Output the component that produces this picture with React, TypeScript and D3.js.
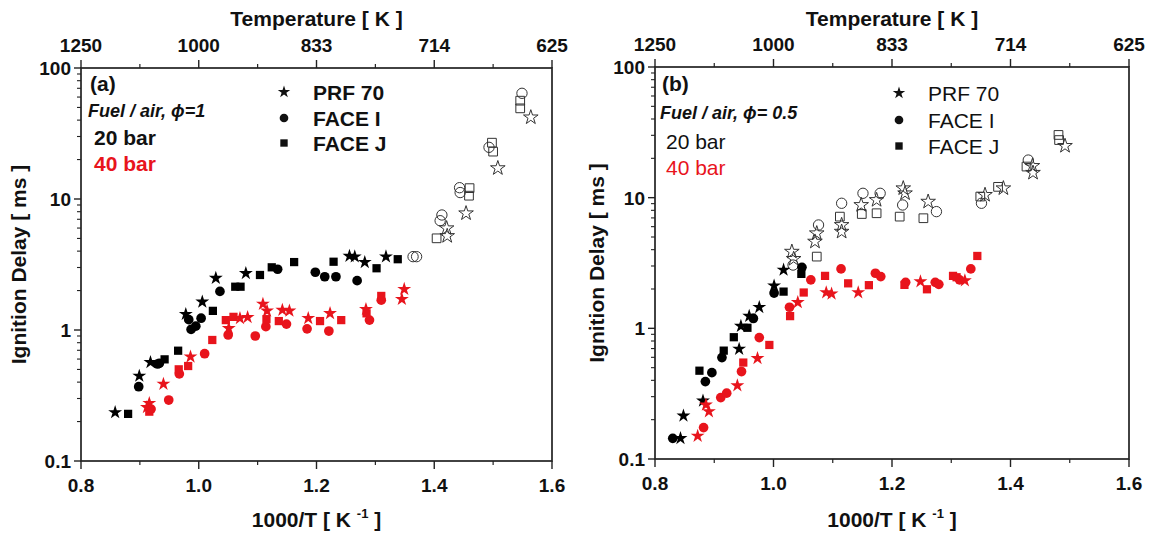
import React from "react";
import * as d3 from "d3";

type Pt = [number, number];

// ---------- axis data ----------
const xMajorTicks = [0.8, 1.0, 1.2, 1.4, 1.6];
const xMinorTicks = [0.9, 1.1, 1.3, 1.5];
const xTickLabels = ["0.8", "1.0", "1.2", "1.4", "1.6"];
const topTickLabels = ["1250", "1000", "833", "714", "625"];
const yMajorTicks = [0.1, 1, 10, 100];
const yTickLabels = ["0.1", "1", "10", "100"];

// ---------- panel (a): phi = 1 ----------
const a_prf_20: Pt[] = [
  [0.858, 0.235], [0.899, 0.446], [0.918, 0.567], [0.978, 1.32], [1.006, 1.64],
  [1.029, 2.49], [1.08, 2.71], [1.256, 3.67], [1.265, 3.63], [1.282, 3.29], [1.318, 3.63],
];
const a_faceI_20: Pt[] = [
  [0.898, 0.369], [0.93, 0.55], [0.933, 0.556], [0.983, 1.2], [0.987, 1.01],
  [0.995, 1.07], [1.004, 1.23], [1.036, 1.97], [1.134, 2.91], [1.198, 2.76],
  [1.214, 2.55], [1.233, 2.55], [1.269, 2.38],
];
const a_faceJ_20: Pt[] = [
  [0.88, 0.229], [0.942, 0.597], [0.965, 0.695], [1.024, 1.4], [1.062, 2.14],
  [1.071, 2.14], [1.104, 2.63], [1.124, 3.01], [1.162, 3.3], [1.229, 3.32],
  [1.302, 2.96], [1.338, 3.47],
];
const a_prf_40: Pt[] = [
  [0.916, 0.276], [0.912, 0.257], [0.94, 0.387], [0.986, 0.625], [1.051, 1.03],
  [1.07, 1.23], [1.083, 1.25], [1.109, 1.58], [1.116, 1.4], [1.142, 1.42],
  [1.154, 1.4], [1.186, 1.23], [1.223, 1.34], [1.284, 1.44], [1.349, 2.05], [1.345, 1.72],
];
const a_faceI_40: Pt[] = [
  [0.919, 0.249], [0.949, 0.292], [0.967, 0.462], [1.01, 0.659], [1.05, 0.916],
  [1.096, 0.9], [1.114, 1.06], [1.149, 1.11], [1.184, 1.02], [1.221, 0.982],
  [1.29, 1.19], [1.31, 1.69],
];
const a_faceJ_40: Pt[] = [
  [0.916, 0.238], [0.966, 0.501], [0.982, 0.531], [1.023, 0.839], [1.046, 1.19],
  [1.059, 1.26], [1.115, 1.21], [1.136, 1.17], [1.206, 1.17], [1.242, 1.19],
  [1.285, 1.34], [1.31, 1.82],
];
const a_prf_open: Pt[] = [
  [1.421, 5.98], [1.422, 5.22], [1.454, 7.78], [1.508, 17.2], [1.564, 42.0],
];
const a_faceI_open: Pt[] = [
  [1.364, 3.63], [1.37, 3.63], [1.41, 6.83], [1.413, 7.55], [1.443, 12.2],
  [1.444, 11.2], [1.493, 24.8], [1.549, 64.1],
];
const a_faceJ_open: Pt[] = [
  [1.404, 5.01], [1.46, 12.1], [1.459, 10.6], [1.498, 26.9], [1.5, 23.0],
  [1.546, 56.3], [1.546, 49.2],
];

// ---------- panel (b): phi = 0.5 ----------
const b_prf_20: Pt[] = [
  [0.843, 0.144], [0.848, 0.214], [0.881, 0.279], [0.942, 0.695], [0.945, 1.04],
  [0.959, 1.24], [0.976, 1.45], [1.001, 2.12], [1.017, 2.8],
];
const b_faceI_20: Pt[] = [
  [0.83, 0.144], [0.885, 0.391], [0.896, 0.458], [0.913, 0.597], [0.966, 1.19],
  [1.001, 1.86], [1.048, 2.93],
];
const b_faceJ_20: Pt[] = [
  [0.875, 0.474], [0.916, 0.675], [0.933, 0.855], [0.956, 1.01], [1.017, 1.91], [1.047, 2.61],
];
const b_prf_40: Pt[] = [
  [0.872, 0.15], [0.886, 0.26], [0.891, 0.231], [0.939, 0.365], [0.973, 0.59],
  [1.041, 1.58], [1.089, 1.88], [1.098, 1.84], [1.143, 1.88], [1.248, 2.28], [1.323, 2.32],
];
const b_faceI_40: Pt[] = [
  [0.882, 0.174], [0.911, 0.295], [0.921, 0.319], [0.946, 0.467], [0.976, 0.849],
  [1.027, 1.45], [1.063, 2.35], [1.114, 2.85], [1.172, 2.64], [1.181, 2.49],
  [1.223, 2.25], [1.273, 2.25], [1.279, 2.17], [1.314, 2.35], [1.333, 2.85],
];
const b_faceJ_40: Pt[] = [
  [0.949, 0.547], [0.993, 0.746], [1.028, 1.24], [1.051, 1.88], [1.087, 2.52],
  [1.126, 2.21], [1.161, 2.14], [1.221, 2.15], [1.259, 1.99], [1.303, 2.52],
  [1.309, 2.46], [1.344, 3.58],
];
const b_prf_open: Pt[] = [
  [1.031, 3.86], [1.034, 3.4], [1.073, 5.34], [1.07, 4.61], [1.115, 6.18],
  [1.115, 5.49], [1.148, 8.79], [1.174, 9.6], [1.219, 11.8], [1.222, 10.8],
  [1.261, 9.32], [1.357, 10.5], [1.388, 11.8], [1.437, 17.5], [1.438, 15.5], [1.492, 24.9],
];
const b_faceI_open: Pt[] = [
  [1.033, 3.05], [1.076, 6.18], [1.115, 9.06], [1.151, 10.8], [1.18, 10.8],
  [1.218, 8.79], [1.275, 7.82], [1.351, 9.06], [1.43, 19.4],
];
const b_faceJ_open: Pt[] = [
  [1.073, 3.54], [1.112, 7.16], [1.149, 7.5], [1.174, 7.6], [1.213, 7.16],
  [1.253, 6.96], [1.349, 10.2], [1.379, 12.1], [1.427, 17.3], [1.481, 30.2], [1.482, 27.6],
];

const legendNames = ["PRF 70", "FACE I", "FACE J"];

// ---------- styling ----------
const FONT = "'Liberation Sans', Arial, Helvetica, sans-serif";
const RED = "#e8141c";

type Shape = "star" | "circle" | "square";
const symType: Record<Shape, d3.SymbolType> = {
  star: d3.symbolStar,
  circle: d3.symbolCircle,
  square: d3.symbolSquare,
};
const filledSize: Record<Shape, number> = { star: 60, circle: 74, square: 68 };
const openSize: Record<Shape, number> = { star: 66, circle: 84, square: 76 };

interface Series {
  pts: Pt[];
  shape: Shape;
  color: string;
  open?: boolean;
}

interface Geom {
  left: number;
  right: number;
  top: number;
  bottom: number;
}

interface PanelProps {
  g: Geom;
  series: Series[];
  tag: string;
  fuel: string;
  legendX: number;
  legendYs: number[];
  textX: number;
  tagY: number;
  fuelY: number;
  barYs: number[];
  yTitleX: number;
  lightText?: boolean;
}

function Panel(p: PanelProps) {
  const { g } = p;
  const x = d3.scaleLinear().domain([0.8, 1.6]).range([g.left, g.right]);
  const y = d3.scaleLog().domain([0.1, 100]).range([g.bottom, g.top]);
  const yMinor: number[] = [];
  [0.1, 1, 10].forEach((d) => {
    for (let k = 2; k <= 9; k++) yMinor.push(d * k);
  });
  const cx = (g.left + g.right) / 2;
  const cy = (g.top + g.bottom) / 2;
  const lw = p.lightText ? "normal" : "bold";
  const legendShapes: Shape[] = ["star", "circle", "square"];

  return (
    <g fontFamily={FONT}>
      {/* frame */}
      <rect x={g.left} y={g.top} width={g.right - g.left} height={g.bottom - g.top}
        fill="none" stroke="#222" strokeWidth={1.7} />
      {/* bottom/top ticks */}
      {xMajorTicks.map((t, i) => (
        <g key={"bx" + i}>
          <line x1={x(t)} x2={x(t)} y1={g.bottom} y2={g.bottom + 8} stroke="#222" strokeWidth={1.4} />
          <line x1={x(t)} x2={x(t)} y1={g.top} y2={g.top - 8} stroke="#222" strokeWidth={1.4} />
          <text x={x(t)} y={g.bottom + 31} textAnchor="middle" fontSize={19} fontWeight="bold" fill="#111">
            {xTickLabels[i]}
          </text>
          <text x={x(t)} y={g.top - 16} textAnchor="middle" fontSize={19} fontWeight="bold" fill="#111">
            {topTickLabels[i]}
          </text>
        </g>
      ))}
      {xMinorTicks.map((t, i) => (
        <g key={"mx" + i}>
          <line x1={x(t)} x2={x(t)} y1={g.bottom} y2={g.bottom + 4} stroke="#222" strokeWidth={1.2} />
          <line x1={x(t)} x2={x(t)} y1={g.top} y2={g.top - 4} stroke="#222" strokeWidth={1.2} />
        </g>
      ))}
      {/* y ticks */}
      {yMajorTicks.map((t, i) => (
        <g key={"y" + i}>
          <line x1={g.left - 7} x2={g.left} y1={y(t)} y2={y(t)} stroke="#222" strokeWidth={1.4} />
          <text x={g.left - 10} y={y(t) + 7} textAnchor="end" fontSize={19} fontWeight="bold" fill="#111">
            {yTickLabels[i]}
          </text>
        </g>
      ))}
      {yMinor.map((t, i) => (
        <line key={"ym" + i} x1={g.left - 4} x2={g.left} y1={y(t)} y2={y(t)} stroke="#222" strokeWidth={1.1} />
      ))}
      {/* titles */}
      <text x={cx} y={26} textAnchor="middle" fontSize={21} fontWeight="bold" fill="#111">
        Temperature [ K ]
      </text>
      <text x={cx} y={527} textAnchor="middle" fontSize={21} fontWeight="bold" fill="#111">
        1000/T [ K <tspan fontSize={13} dy={-9}>-1</tspan>
        <tspan dy={9}> ]</tspan>
      </text>
      <text transform={`translate(${p.yTitleX},${cy}) rotate(-90)`} textAnchor="middle"
        fontSize={21} fontWeight="bold" fill="#111">
        Ignition Delay [ ms ]
      </text>
      {/* annotations */}
      <text x={p.textX} y={p.tagY} fontSize={21} fontWeight="bold" fill="#111">{p.tag}</text>
      <text x={p.textX - 2} y={p.fuelY} fontSize={18} fontWeight="bold" fontStyle="italic" fill="#111">{p.fuel}</text>
      <text x={p.textX + 4} y={p.barYs[0]} fontSize={21} fontWeight={lw} fill="#111">20 bar</text>
      <text x={p.textX + 4} y={p.barYs[1]} fontSize={21} fontWeight={lw} fill={RED}>40 bar</text>
      {/* legend */}
      {legendNames.map((n, i) => (
        <g key={"lg" + i}>
          <path d={d3.symbol().type(symType[legendShapes[i]]).size(filledSize[legendShapes[i]] * 0.8)()!}
            transform={`translate(${p.legendX},${p.legendYs[i]})`} fill="#111" />
          <text x={p.legendX + 29} y={p.legendYs[i] + 8} fontSize={21} fontWeight={lw} fill="#111">{n}</text>
        </g>
      ))}
      {/* data */}
      {p.series.map((s, si) => {
        const path = d3.symbol().type(symType[s.shape]).size(s.open ? openSize[s.shape] : filledSize[s.shape])()!;
        return (
          <g key={"s" + si}>
            {s.pts.map((pt, k) => (
              <path key={k} d={path} transform={`translate(${x(pt[0])},${y(pt[1])})`}
                fill={s.open ? "none" : s.color}
                stroke={s.open ? "#333" : "none"} strokeWidth={s.open ? 1 : 0} />
            ))}
          </g>
        );
      })}
    </g>
  );
}

const seriesA: Series[] = [
  { pts: a_prf_open, shape: "star", color: "#111", open: true },
  { pts: a_faceI_open, shape: "circle", color: "#111", open: true },
  { pts: a_faceJ_open, shape: "square", color: "#111", open: true },
  { pts: a_faceI_20, shape: "circle", color: "#000" },
  { pts: a_faceJ_20, shape: "square", color: "#000" },
  { pts: a_prf_20, shape: "star", color: "#000" },
  { pts: a_faceI_40, shape: "circle", color: RED },
  { pts: a_faceJ_40, shape: "square", color: RED },
  { pts: a_prf_40, shape: "star", color: RED },
];
const seriesB: Series[] = [
  { pts: b_prf_open, shape: "star", color: "#111", open: true },
  { pts: b_faceI_open, shape: "circle", color: "#111", open: true },
  { pts: b_faceJ_open, shape: "square", color: "#111", open: true },
  { pts: b_faceI_20, shape: "circle", color: "#000" },
  { pts: b_faceJ_20, shape: "square", color: "#000" },
  { pts: b_prf_20, shape: "star", color: "#000" },
  { pts: b_faceI_40, shape: "circle", color: RED },
  { pts: b_faceJ_40, shape: "square", color: RED },
  { pts: b_prf_40, shape: "star", color: RED },
];

export default function App() {
  return (
    <svg width={1161} height={535} style={{ position: "absolute", left: 0, top: 0, background: "#fff" }}>
      <rect width={1161} height={535} fill="#fff" />
      <Panel
        g={{ left: 81, right: 552, top: 68, bottom: 461 }}
        series={seriesA}
        tag="(a)"
        fuel="Fuel / air, ϕ=1"
        legendX={284}
        legendYs={[92, 118, 143]}
        textX={90}
        tagY={91}
        fuelY={117}
        barYs={[145, 171]}
        yTitleX={26}
      />
      <Panel
        g={{ left: 655, right: 1129, top: 67, bottom: 459 }}
        series={seriesB}
        tag="(b)"
        fuel="Fuel / air, ϕ= 0.5"
        legendX={899}
        legendYs={[93, 120, 146]}
        textX={662}
        tagY={91}
        fuelY={119}
        barYs={[149, 175]}
        yTitleX={604}
        lightText
      />
    </svg>
  );
}
